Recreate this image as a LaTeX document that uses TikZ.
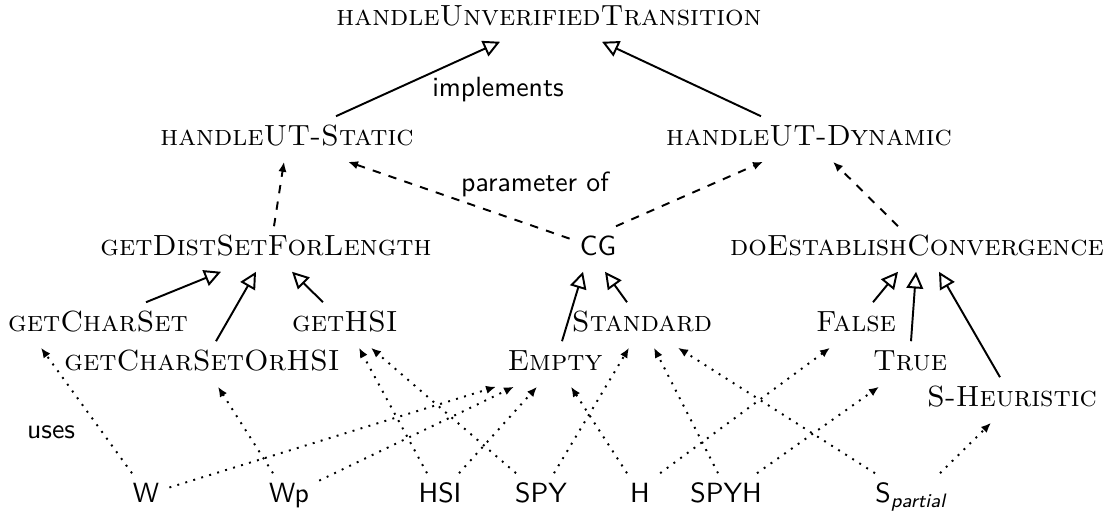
\documentclass[tikz,border=0pt]{standalone}
\usepackage{tikz}
\usetikzlibrary{positioning,arrows.meta}

\begin{document}
\begin{tikzpicture}[
    x=0.36pt, y=-0.36pt,
    fn/.style={font=\fontsize{10.5}{12.6}\selectfont\scshape, text height=7pt, text depth=2pt, inner xsep=3.5pt, inner ysep=3.5pt},
    lit/.style={fn, font=\normalsize\sffamily},
    lbl/.style={font=\sffamily},
    impl/.style={-{Triangle[open, length=6pt, width=6pt]}, line width=0.7pt},
    param/.style={-{Latex[length=3.6pt, width=3pt]}, dashed, line width=0.7pt},
    uses/.style={-{Latex[length=3.6pt, width=3pt]}, dash pattern=on 0.7pt off 2.3pt, line width=0.7pt}
  ]
  \useasboundingbox (0,0) rectangle (1108,512);

  % interface and its two implementations
  \node[fn] (hut) at (549,19) {handleUnverifiedTransition};
  \node[fn] (static) at (287,139) {handleUT-Static};
  \node[fn] (dynamic) at (809,139) {handleUT-Dynamic};

  % parameters
  \node[fn] (gdsfl) at (266,249) {getDistSetForLength};
  \node[lit] (cg) at (598,249) {CG};
  \node[fn] (dec) at (917,249) {doEstablishConvergence};

  % parameter implementations
  \node[fn] (gcs) at (98,325) {getCharSet};
  \node[fn] (ghsi) at (345,325) {getHSI};
  \node[fn] (std) at (642,325) {Standard};
  \node[fn] (false) at (856,325) {False};
  \node[fn] (gcsoh) at (202,364) {getCharSetOrHSI};
  \node[fn] (empty) at (555,364) {Empty};
  \node[fn] (true) at (910,364) {True};
  \node[fn] (sheur) at (1012,400) {S-Heuristic};

  % strategies
  \node[lit] (w) at (146,496) {W};
  \node[lit] (wp) at (289,496) {Wp};
  \node[lit] (hsi) at (440,496) {HSI};
  \node[lit] (spy) at (541,496) {SPY};
  \node[lit] (h) at (640,496) {H};
  \node[lit] (spyh) at (726,496) {SPYH};
  \node[lit] (sp) at (911,496) {S\textsubscript{\itshape partial}};

  % edge labels
  \node[lbl] (implements) at (498,90) {implements};
  \node[lbl] (paramof) at (535,184) {parameter of};
  \node[lbl] (uses) at (51,432) {uses};

  \foreach \s/\a/\t/\b in {static.north/49/hut/-49, dynamic.north/-48/hut/53,
      gcs.north/48/gdsfl/-45, gcsoh.north/14/gdsfl/-10, ghsi.north/-22/gdsfl/26,
      empty.north/7/cg/-15, std.north/-15/cg/7,
      false.north/17/dec/-19, true.north/1/dec/-1, sheur.north/-12/dec/22}
    \draw[impl] ([shift={(\a,0)}]\s) -- ([shift={(\b,0)}]\t.south);
  \foreach \s/\a/\t/\b in {gdsfl.north/8/static/-3, cg.160/0/static/61,
      cg.north/18/dynamic/-46, dec.north/-19/dynamic/24}
    \draw[param] ([shift={(\a,0)}]\s) -- ([shift={(\b,0)}]\t.south);
  \foreach \s/\a/\t/\b in {w.north/-14/gcs/-57, w.20/0/empty/-59,
      wp.north/-16/gcsoh/16, wp.27/0/empty/-41,
      hsi.north/-13/ghsi/14, hsi.north/19/empty/-18,
      spy.north/-25/ghsi/26, spy.north/13/std/-13,
      h.north/-13/empty/16, h.north east/0/false/-26,
      spyh.north/-8/std/12, spyh.north/31/true/-31,
      sp.north/-36/std/36, sp.north/29/sheur/-21}
    \draw[uses] ([shift={(\a,0)}]\s) -- ([shift={(\b,0)}]\t.south);
\end{tikzpicture}
\end{document}
